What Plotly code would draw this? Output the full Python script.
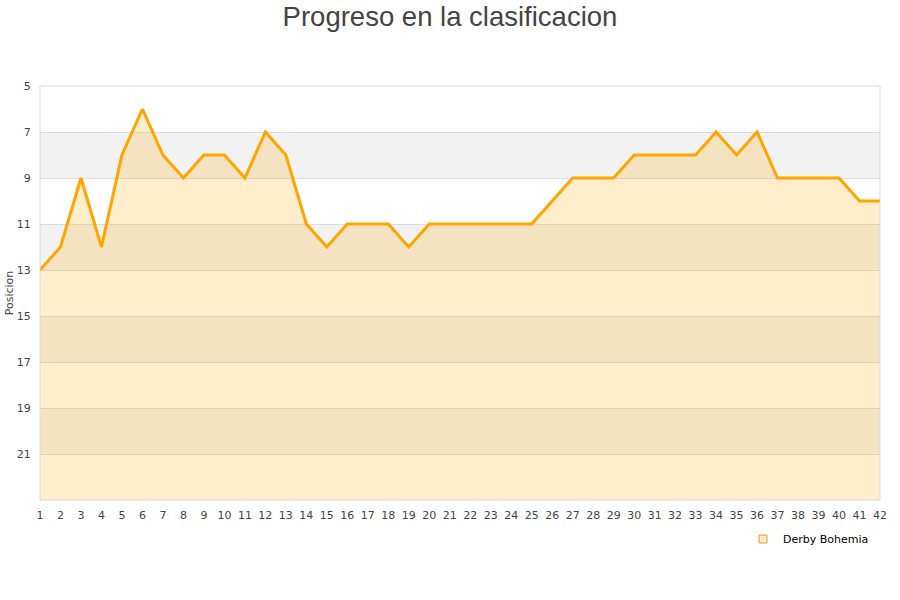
import plotly.graph_objects as go

jornadas = list(range(1, 43))
posiciones = [13, 12, 9, 12, 8, 6, 8, 9, 8, 8, 9, 7, 8, 11, 12, 11, 11, 11, 12, 11,
              11, 11, 11, 11, 11, 10, 9, 9, 9, 8, 8, 8, 8, 7, 8, 7, 9, 9, 9, 9, 10, 10]
y_ticks = [5, 7, 9, 11, 13, 15, 17, 19, 21]
y_min, y_max = 5, 23
band_starts = [7, 11, 15, 19]
equipo = "Derby Bohemia"

fig = go.Figure()
fig.add_trace(go.Scatter(x=jornadas, y=[y_max] * len(jornadas), mode="lines",
                         line=dict(width=0), showlegend=False, hoverinfo="skip"))
fig.add_trace(go.Scatter(x=jornadas, y=posiciones, mode="lines", name=equipo,
                         line=dict(color="#FFA500", width=3),
                         fill="tonexty", fillcolor="rgba(255,165,0,0.2)", showlegend=False))
fig.add_trace(go.Scatter(x=[None], y=[None], mode="markers", name=equipo,
                         marker=dict(symbol="square", size=8, color="#FDEBC8",
                                     line=dict(color="#E0A030", width=1))))

shapes = []
for b in band_starts:
    shapes.append(dict(type="rect", xref="paper", yref="y", x0=0, x1=1, y0=b, y1=b + 2,
                       fillcolor="#f2f2f2", line=dict(width=0), layer="below"))
shapes.append(dict(type="rect", xref="paper", yref="paper", x0=0, x1=1, y0=0, y1=1,
                   line=dict(color="#d9d9d9", width=1), layer="above"))

fig.update_layout(
    width=900, height=600,
    paper_bgcolor="white", plot_bgcolor="white",
    margin=dict(l=40, r=20, t=86, b=100, autoexpand=False),
    title=dict(text="Progreso en la clasificacion", x=0.5, xanchor="center",
               yref="container", y=1 - 16 / 600, yanchor="middle",
               font=dict(family="Liberation Sans, Arial", size=27.5, color="#444444")),
    font=dict(family="DejaVu Sans", size=11, color="#444444"),
    shapes=shapes,
    xaxis=dict(range=[1, 42], tickmode="array", tickvals=jornadas, automargin=False,
               showgrid=False, zeroline=False, showline=False,
               ticks="outside", ticklen=5, tickcolor="rgba(0,0,0,0)",
               tickfont=dict(size=11, color="#444444")),
    yaxis=dict(range=[y_max, y_min], tickmode="array", tickvals=y_ticks, automargin=False,
               showgrid=True, gridcolor="#dddddd", gridwidth=1, zeroline=False,
               showline=False, ticks="outside", ticklen=6, tickcolor="rgba(0,0,0,0)",
               title=dict(text="Posicion", font=dict(size=11), standoff=0),
               tickfont=dict(size=11, color="#444444")),
    legend=dict(x=(743 - 40) / 840, y=-39 / 414, xanchor="left", yanchor="middle",
                orientation="h", itemwidth=30,
                font=dict(size=11, color="#000000"), bgcolor="rgba(0,0,0,0)"),
    showlegend=True,
)

fig.write_html("out.html", config={"displayModeBar": False},
               post_script="document.body.style.margin='0';")
